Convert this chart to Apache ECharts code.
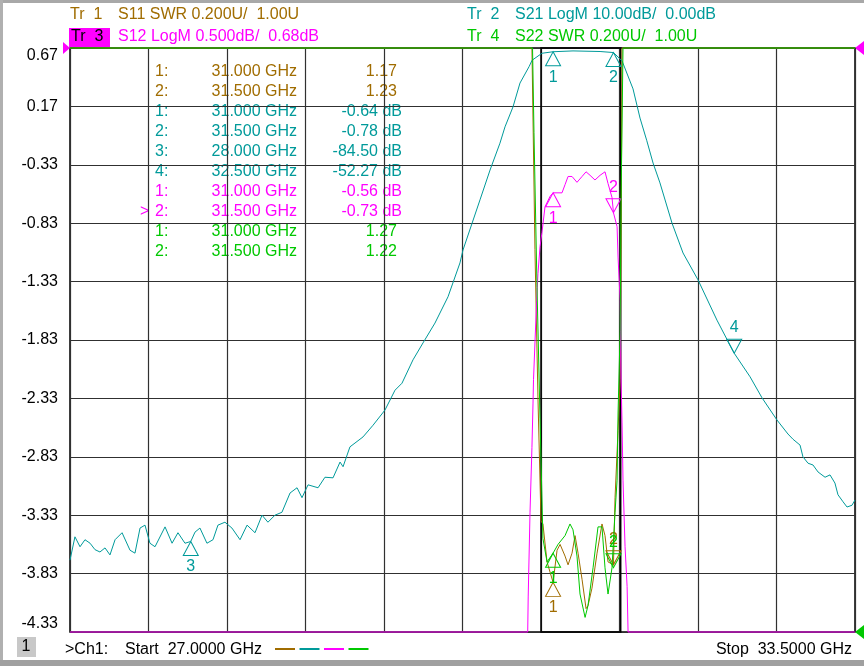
<!DOCTYPE html>
<html>
<head>
<meta charset="utf-8">
<title>S-parameter sweep 27 - 33.5 GHz</title>
<script src="https://cdn.jsdelivr.net/npm/echarts@6.0.0/dist/echarts.min.js"></script>
<style>
html, body { margin: 0; padding: 0; background: #fff; }
#chart { width: 864px; height: 666px; }
</style>
</head>
<body>
<div id="chart"></div>
<script>
var myChart = echarts.init(document.getElementById('chart'));

const font = 'Liberation Sans, Arial, sans-serif';
const fs = 16;
let color = {
	s11: '#A06C00',
	s21: '#009A9A',
	s12: '#FF00FF',
	s22: '#00C800'
};

// sweep
const startGHz = 27.0;
const stopGHz = 33.5;
const yTickLabels = ['-4.33', '-3.83', '-3.33', '-2.83', '-2.33', '-1.83', '-1.33', '-0.83', '-0.33', '0.17', '0.67'];
// black box drawn round the pass band
const searchSpan = [30.9, 31.56];

// Tr1 S11 SWR
const s11Freq = [27.0, 30.825, 30.850, 30.875, 30.900, 30.916, 30.950, 31.000, 31.033, 31.058,
	31.099, 31.124, 31.157, 31.182, 31.207, 31.240, 31.273, 31.289, 31.322, 31.364,
	31.405, 31.430, 31.455, 31.500, 31.513, 31.538, 31.555, 31.563, 31.571, 33.5];
const s11Swr = [3.0, 3.0, 2.31, 1.80, 1.38, 1.37, 1.24, 1.17, 1.28, 1.30,
	1.26, 1.23, 1.27, 1.33, 1.27, 1.18, 1.08, 1.09, 1.15, 1.27,
	1.37, 1.33, 1.24, 1.23, 1.46, 1.69, 1.86, 2.31, 3.0, 3.0];

// Tr2 S21 LogM
const s21Freq = [27.000, 27.041, 27.083, 27.124, 27.166, 27.207, 27.248, 27.290, 27.331, 27.373,
	27.431, 27.497, 27.538, 27.580, 27.621, 27.662, 27.704, 27.787, 27.845, 27.894,
	27.952, 28.000, 28.035, 28.076, 28.134, 28.184, 28.225, 28.283, 28.341, 28.408,
	28.466, 28.532, 28.590, 28.639, 28.697, 28.755, 28.822, 28.880, 28.921, 28.971,
	29.054, 29.111, 29.178, 29.236, 29.261, 29.318, 29.426, 29.509, 29.608, 29.691,
	29.749, 29.840, 29.923, 30.022, 30.130, 30.229, 30.254, 30.395, 30.478, 30.560,
	30.602, 30.668, 30.726, 30.801, 30.826, 30.908, 31.000, 31.165, 31.389, 31.500,
	31.571, 31.662, 31.720, 31.775, 31.828, 31.885, 31.985, 32.076, 32.200, 32.357,
	32.500, 32.631, 32.730, 32.854, 32.945, 32.987, 33.045, 33.069, 33.111, 33.152,
	33.194, 33.252, 33.293, 33.334, 33.359, 33.401, 33.434, 33.475, 33.500];
const s21Db = [-87.7, -83.7, -85.4, -84.2, -84.8, -85.9, -86.3, -85.6, -86.8, -84.2,
	-83.0, -86.0, -86.5, -82.2, -81.7, -84.8, -85.4, -82.0, -84.8, -83.0,
	-84.8, -84.5, -82.9, -82.2, -84.8, -84.2, -81.7, -81.2, -82.2, -84.2,
	-81.7, -83.0, -80.0, -81.2, -80.0, -79.5, -76.2, -75.3, -77.0, -74.8,
	-75.3, -73.5, -73.6, -70.9, -71.7, -68.3, -66.6, -64.6, -62.0, -58.6,
	-57.4, -53.4, -50.5, -47.1, -42.6, -36.8, -34.6, -26.0, -20.9, -16.3,
	-13.5, -10.1, -6.0, -3.2, -2.1, -0.9, -0.64, -0.5, -0.6, -0.78,
	-2.2, -7.0, -12.0, -15.8, -19.7, -23.1, -30.0, -35.1, -39.7, -46.6,
	-52.27, -56.3, -59.9, -63.7, -66.1, -67.0, -68.0, -70.0, -71.1, -71.4,
	-72.6, -73.5, -73.1, -74.5, -76.5, -77.7, -78.6, -78.3, -77.4];

// Tr3 S12 LogM (off screen values sit on the bottom edge)
const s12Freq = [27.0, 30.790, 30.794, 30.809, 30.825, 30.834, 30.838, 30.864, 30.875, 30.892,
	30.908, 30.933, 30.975, 31.000, 31.016, 31.074, 31.099, 31.124, 31.157, 31.198,
	31.240, 31.273, 31.306, 31.347, 31.389, 31.430, 31.455, 31.488, 31.500, 31.530,
	31.538, 31.555, 31.563, 31.571, 31.579, 31.596, 31.613, 31.621, 33.5];
const s12Db = [-4.32, -4.32, -4.02, -3.30, -2.74, -2.36, -2.16, -1.48, -1.25, -1.02,
	-0.90, -0.68, -0.59, -0.56, -0.56, -0.56, -0.49, -0.42, -0.42, -0.47,
	-0.42, -0.38, -0.41, -0.45, -0.41, -0.38, -0.48, -0.60, -0.73, -0.85,
	-1.11, -1.48, -2.16, -2.53, -3.02, -3.59, -3.93, -4.32, -4.32];

// Tr4 S22 SWR
const s22Freq = [27.0, 30.830, 30.842, 30.867, 30.892, 30.916, 30.950, 31.000, 31.041, 31.099,
	31.140, 31.165, 31.198, 31.223, 31.265, 31.289, 31.331, 31.372, 31.405, 31.430,
	31.455, 31.488, 31.500, 31.513, 31.530, 31.538, 31.555, 31.563, 31.579, 33.5];
const s22Swr = [3.0, 3.0, 2.71, 2.18, 1.73, 1.32, 1.24, 1.27, 1.30, 1.33,
	1.37, 1.35, 1.26, 1.13, 1.05, 1.09, 1.22, 1.36, 1.36, 1.22,
	1.13, 1.22, 1.22, 1.41, 1.52, 1.75, 2.03, 2.48, 3.0, 3.0];

// markers: frequency, read out value, triangle up/down
const s11MkFreq = [31.0, 31.5];
const s11MkVal = [1.17, 1.23];
const s11MkDir = ['up', 'down'];
const s21MkFreq = [31.0, 31.5, 28.0, 32.5];
const s21MkVal = [-0.64, -0.78, -84.50, -52.27];
const s21MkDir = ['up', 'up', 'up', 'down'];
const s12MkFreq = [31.0, 31.5];
const s12MkVal = [-0.56, -0.73];
const s12MkDir = ['up', 'down'];
const s22MkFreq = [31.0, 31.5];
const s22MkVal = [1.27, 1.22];
const s22MkDir = ['up', 'down'];

const traces = [
	{ name: 'S11', yAxisIndex: 1, freq: s11Freq, vals: s11Swr, c: color.s11, mkF: s11MkFreq, mkV: s11MkVal, mkD: s11MkDir, unit: '' },
	{ name: 'S21', yAxisIndex: 2, freq: s21Freq, vals: s21Db, c: color.s21, mkF: s21MkFreq, mkV: s21MkVal, mkD: s21MkDir, unit: ' dB' },
	{ name: 'S12', yAxisIndex: 3, freq: s12Freq, vals: s12Db, c: color.s12, mkF: s12MkFreq, mkV: s12MkVal, mkD: s12MkDir, unit: ' dB' },
	{ name: 'S22', yAxisIndex: 4, freq: s22Freq, vals: s22Swr, c: color.s22, mkF: s22MkFreq, mkV: s22MkVal, mkD: s22MkDir, unit: '' }
];

const downTri = 'path://M0,0L16,0L8,14Z';

let series = traces.map(function(t, k) {
	let s = {
		name: t.name,
		type: 'line',
		xAxisIndex: 1,
		yAxisIndex: t.yAxisIndex,
		data: t.freq.map((f, i) => [f, t.vals[i]]),
		symbol: 'none',
		clip: false,
		animation: false,
		z: 3 + k,
		lineStyle: { color: t.c, width: 1 },
		markPoint: {
			silent: true,
			animation: false,
			itemStyle: { color: 'rgba(0,0,0,0)', borderColor: t.c, borderWidth: 1 },
			label: { show: true, color: t.c, fontSize: fs, fontFamily: font, distance: 3 },
			data: t.mkF.map(function(f, i) {
				let up = t.mkD[i] === 'up';
				return {
					name: String(i + 1),
					coord: [f, t.mkV[i]],
					symbol: up ? 'triangle' : downTri,
					symbolSize: [15, 14],
					symbolOffset: [0, up ? '50%' : '-50%'],
					label: { position: up ? 'bottom' : 'top', formatter: '{b}' }
				};
			})
		}
	};
	if (k === 0) {
		s.markArea = {
			silent: true,
			itemStyle: { color: 'rgba(0,0,0,0)', borderColor: '#000', borderWidth: 1.5 },
			data: [[{ xAxis: searchSpan[0] }, { xAxis: searchSpan[1] }]]
		};
	}
	return s;
});

// marker read out table, built from the marker arrays
let graphics = [];
let row = 0;
traces.forEach(function(t) {
	t.mkF.forEach(function(f, i) {
		let y = 72 + row * 20;
		let st = { fill: t.c, font: fs + 'px ' + font, verticalAlign: 'middle' };
		if (t.name === 'S12' && i === 1) {
			graphics.push({ type: 'text', style: Object.assign({ x: 140, y: y, text: '>', align: 'left' }, st) });
		}
		graphics.push({ type: 'text', style: Object.assign({ x: 155, y: y, text: (i + 1) + ':', align: 'left' }, st) });
		graphics.push({ type: 'text', style: Object.assign({ x: 297, y: y, text: f.toFixed(3) + ' GHz', align: 'right' }, st) });
		graphics.push({ type: 'text', style: Object.assign({ x: t.unit ? 402 : 397, y: y, text: t.mkV[i].toFixed(2) + t.unit, align: 'right' }, st) });
		row++;
	});
});

function label(x, y, text, fill, align) {
	return { type: 'text', z: 10, style: { x: x, y: y, text: text, fill: fill, font: fs + 'px ' + font, align: align || 'left', verticalAlign: 'middle' } };
}

graphics.push(
	// frame
	{ type: 'rect', shape: { x: 0, y: 0, width: 864, height: 3 }, style: { fill: '#a8a8a8' } },
	{ type: 'rect', shape: { x: 0, y: 0, width: 3, height: 666 }, style: { fill: '#b0b0b0' } },
	{ type: 'rect', shape: { x: 0, y: 660, width: 864, height: 6 }, style: { fill: '#a0a0a0' } },
	// trace headers
	label(70, 15, 'Tr  1', color.s11),
	label(118, 15, 'S11 SWR 0.200U/  1.00U', color.s11),
	{ type: 'rect', shape: { x: 69, y: 28, width: 41, height: 19 }, style: { fill: color.s12 } },
	label(71, 37, 'Tr  3', '#000'),
	label(118, 37, 'S12 LogM 0.500dB/  0.68dB', color.s12),
	label(467, 15, 'Tr  2', color.s21),
	label(515, 15, 'S21 LogM 10.00dB/  0.00dB', color.s21),
	label(467, 37, 'Tr  4', color.s22),
	label(515, 37, 'S22 SWR 0.200U/  1.00U', color.s22),
	// reference position arrows
	{ type: 'polygon', shape: { points: [[63, 42], [70, 48], [63, 54]] }, style: { fill: color.s12 } },
	{ type: 'polygon', shape: { points: [[864, 41], [855, 48], [864, 55]] }, style: { fill: color.s12 } },
	{ type: 'polygon', shape: { points: [[864, 625], [855, 632], [864, 639]] }, style: { fill: color.s22 } },
	// channel line
	{ type: 'rect', shape: { x: 17, y: 637, width: 19, height: 20 }, style: { fill: '#c8c8c8' } },
	label(26, 647, '1', '#000', 'center'),
	label(65, 650, '>Ch1:', '#000'),
	label(125, 650, 'Start  ' + startGHz.toFixed(4) + ' GHz', '#000'),
	label(852, 650, 'Stop  ' + stopGHz.toFixed(4) + ' GHz', '#000', 'right')
);
[color.s11, color.s21, color.s12, color.s22].forEach(function(c, i) {
	let x0 = 275 + i * 24.5;
	graphics.push({ type: 'line', shape: { x1: x0, y1: 649, x2: x0 + 20, y2: 649 }, style: { stroke: c, lineWidth: 2 } });
});

let hiddenY = (min, max) => ({ type: 'value', min: min, max: max, show: false, splitLine: { show: false } });

option = {
	backgroundColor: '#fff',
	animation: false,
	grid: {
		left: 70,
		top: 48,
		width: 785,
		height: 584,
		show: true,
		borderColor: '#000',
		borderWidth: 1.5,
		backgroundColor: '#fff'
	},
	xAxis: [{
		// ten divisions for the graticule
		type: 'value',
		min: 0,
		max: 10,
		interval: 1,
		axisLine: { show: false },
		axisTick: { show: false },
		axisLabel: { show: false },
		splitLine: { show: true, lineStyle: { color: '#303030', width: 1.2 } }
	}, {
		type: 'value',
		min: startGHz,
		max: stopGHz,
		show: false,
		splitLine: { show: false }
	}],
	yAxis: [{
		type: 'value',
		min: 0,
		max: 10,
		interval: 1,
		axisLine: { show: false },
		axisTick: { show: false },
		splitLine: { show: true, lineStyle: { color: '#303030', width: 1.2 } },
		axisLabel: {
			formatter: v => yTickLabels[Math.round(v)],
			color: '#000',
			fontSize: fs,
			fontFamily: font,
			margin: 12,
			verticalAlignMinLabel: 'bottom',
			verticalAlignMaxLabel: 'top'
		}
	},
		hiddenY(1, 3),
		hiddenY(-100, 0),
		hiddenY(-4.32, 0.68),
		hiddenY(1, 3)
	],
	graphic: graphics,
	series: series
};
myChart.setOption(option);
</script>
</body>
</html>
